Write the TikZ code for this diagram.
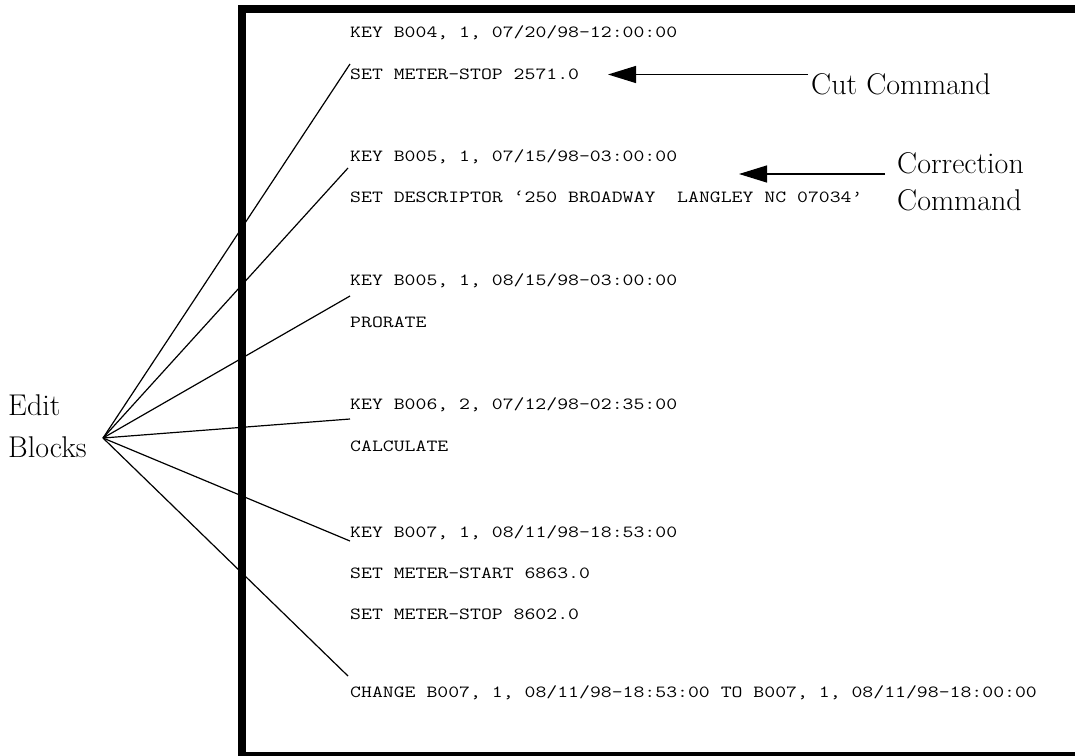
\documentclass[tikz,border=0pt]{standalone}
\usepackage{fontspec}
\usetikzlibrary{arrows.meta}
% monospaced listing text, widened to Courier proportions
\newcommand{\codetext}[1]{\scalebox{1.245}[1]{#1}}
\tikzset{
  code/.style={anchor=base west, inner sep=0pt, font=\ttfamily\fontsize{17}{20}\selectfont},
  callout/.style={anchor=base west, inner sep=0pt, font=\rmfamily\fontsize{30}{36}\selectfont},
  frame/.style={line width=7.5pt},
  lead/.style={line width=1.2pt},
  pointer/.style={line width=1.2pt, -{Triangle[length=28pt,width=17pt]}}
}
\begin{document}
\begin{tikzpicture}[x=1pt,y=-1pt]
\useasboundingbox (0,0) rectangle (1075,755);
\clip (0,0) rectangle (1075,755);

% listing frame (open to the right and bottom edges)
\draw[frame] (242,9) rectangle (1090,756);

% edit-block listing
\node[code] (k1) at (350,37)  {\codetext{KEY B004, 1, 07/20/98-12:00:00}};
\node[code] (s1) at (350,79)  {\codetext{SET METER-STOP 2571.0}};
\node[code] (k2) at (350,161) {\codetext{KEY B005, 1, 07/15/98-03:00:00}};
\node[code] (s2) at (350,202) {\codetext{SET DESCRIPTOR ‘250 BROADWAY\ \ LANGLEY NC 07034’}};
\node[code] (k3) at (350,285) {\codetext{KEY B005, 1, 08/15/98-03:00:00}};
\node[code] (s3) at (350,327) {\codetext{PRORATE}};
\node[code] (k4) at (350,409) {\codetext{KEY B006, 2, 07/12/98-02:35:00}};
\node[code] (s4) at (350,451) {\codetext{CALCULATE}};
\node[code] (k5) at (350,537) {\codetext{KEY B007, 1, 08/11/98-18:53:00}};
\node[code] (s5) at (350,578) {\codetext{SET METER-START 6863.0}};
\node[code] (s6) at (350,619) {\codetext{SET METER-STOP 8602.0}};
\node[code] (c1) at (350,697) {\codetext{CHANGE B007, 1, 08/11/98-18:53:00 TO B007, 1, 08/11/98-18:00:00}};

% callout labels
\node[callout] (cut)    at (811,94)  {Cut Command};
\node[callout] (corr)   at (897,173) {Correction};
\node[callout] (corr2)  at (897,210) {Command};
\node[callout] (edit)   at (8,415)   {Edit};
\node[callout] (blocks) at (8,457)   {Blocks};

% fan of leader lines from the "Edit Blocks" label
\coordinate (hub) at (103,438);
\coordinate (e1) at (350,64);
\coordinate (e2) at (348,168);
\coordinate (e3) at (350,296);
\coordinate (e4) at (350,419);
\coordinate (e5) at (350,541);
\coordinate (e6) at (348,676);
\foreach \e in {e1,e2,e3,e4,e5,e6}
  \draw[lead] (hub) -- (\e);

% pointer arrows
\coordinate (cuttip)  at (608,74.5);
\coordinate (corrtip) at (739,174);
\draw[pointer] ([shift={(-3,-19.5)}]cut.base west) -- (cuttip);
\draw[pointer] ([shift={(-12,1)}]corr.base west) -- (corrtip);
\end{tikzpicture}
\end{document}
